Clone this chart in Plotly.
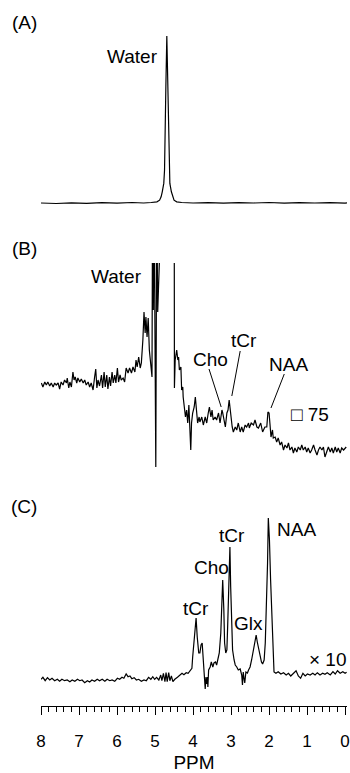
import plotly.graph_objects as go

# ---------------------------------------------------------------------------
# Spectra (chemical shift in ppm, intensity in arbitrary units)
# ---------------------------------------------------------------------------

# (A) unsuppressed water spectrum
ppm_a = [8.00, 7.60, 7.20, 6.80, 6.40, 6.00, 5.60, 5.30, 5.10, 4.95, 4.88, 4.84,
         4.81, 4.77, 4.75, 4.73, 4.715, 4.69, 4.665, 4.65, 4.63, 4.61, 4.57,
         4.54, 4.50, 4.43, 4.30, 4.00, 3.60, 3.20, 2.80, 2.40, 2.00, 1.60,
         1.20, 0.80, 0.40, 0.00, -0.05]
int_a = [0.3, 0.0, 0.4, 0.1, 0.5, 0.2, 0.6, 0.3, 0.6, 1, 2, 4,
         7, 12, 20, 40, 70, 100, 70, 40, 20, 12, 7,
         4, 2, 1, 0.6, 0.3, 0.5, 0.2, 0.5, 0.3, 0.6, 0.2,
         0.5, 0.3, 0.5, 0.2, 0.4]

# (B) water-suppressed spectrum, scaled up
ppm_b = [7.99, 7.95, 7.90, 7.86, 7.82, 7.77, 7.73, 7.68, 7.64, 7.60, 7.55, 7.51,
         7.47, 7.42, 7.38, 7.33, 7.31, 7.27, 7.24, 7.20, 7.16, 7.13, 7.10, 7.06,
         7.03, 6.98, 6.94, 6.89, 6.85, 6.81, 6.76, 6.72, 6.68, 6.63, 6.59, 6.56,
         6.53, 6.50, 6.46, 6.41, 6.38, 6.34, 6.31, 6.27, 6.24, 6.20, 6.17, 6.13,
         6.10, 6.06, 6.03, 5.99, 5.96, 5.92, 5.89, 5.84, 5.80, 5.76, 5.71, 5.67,
         5.62, 5.58, 5.53, 5.50, 5.47, 5.43, 5.39, 5.36, 5.32, 5.29, 5.26, 5.24,
         5.21, 5.18, 5.15, 5.11, 5.08,
         5.065, 5.045, 5.025, 4.98, 4.955, 4.93, 4.91, 4.70, 4.52, 4.495,
         4.49, 4.47, 4.43, 4.40, 4.38, 4.36, 4.32, 4.30, 4.27, 4.26, 4.23, 4.20,
         4.17, 4.14, 4.11, 4.09, 4.06, 4.04, 4.01, 3.97, 3.94, 3.91, 3.88, 3.84,
         3.82, 3.77, 3.73, 3.68, 3.64, 3.60, 3.57, 3.53, 3.50, 3.47, 3.42, 3.38,
         3.33, 3.29, 3.24, 3.22, 3.18, 3.15, 3.11, 3.08, 3.05, 3.03, 3.00, 2.97,
         2.94, 2.89, 2.85, 2.81, 2.76, 2.72, 2.68, 2.63, 2.59, 2.54, 2.52, 2.47,
         2.41, 2.37, 2.32, 2.28, 2.22, 2.17, 2.11, 2.06, 2.03, 2.00, 1.97, 1.95,
         1.91, 1.89, 1.84, 1.80, 1.76, 1.71, 1.67, 1.62, 1.58, 1.53, 1.49, 1.45,
         1.40, 1.36, 1.32, 1.27, 1.23, 1.18, 1.14, 1.10, 1.05, 1.01, 0.97, 0.92,
         0.88, 0.83, 0.79, 0.74, 0.70, 0.66, 0.61, 0.57, 0.53, 0.48, 0.44, 0.39,
         0.35, 0.31, 0.26, 0.22, 0.18, 0.13, 0.09, 0.04, -0.03]
int_b = [67, 63, 68, 65, 68, 64, 67, 63, 67, 65, 67, 61,
         68, 65, 70, 67, 72, 62, 68, 63, 78, 70, 73, 67,
         72, 68, 71, 67, 70, 65, 68, 63, 67, 60, 73, 81,
         62, 70, 64, 75, 62, 78, 63, 75, 61, 73, 64, 78,
         67, 75, 67, 82, 68, 75, 70, 72, 68, 82, 77, 82,
         77, 83, 78, 90, 83, 93, 82, 87, 110, 138, 117, 133,
         113, 132, 100, 85, 73,
         260, 140, 260, -17, 260, 138, 300, 400, 300, 250,
         62, 90, 100, 90, 93, 80, 83, 60, 63, 53, 43, 33,
         40, 27, 45, 20, 0, 27, 37, 43, 53, 40, 27, 33,
         28, 33, 25, 33, 27, 37, 43, 33, 40, 30, 33, 30,
         37, 27, 40, 37, 27, 23, 37, 40, 50, 43, 27, 23,
         18, 23, 20, 27, 18, 23, 18, 25, 23, 27, 22, 27,
         25, 30, 23, 22, 27, 18, 23, 23, 38, 37, 23, 13,
         20, 12, 13, 8, 12, 5, 8, 0, 5, 2, 7, 0,
         3, -3, 2, -2, 3, 0, 5, 0, 3, -2, 2, -3,
         0, 5, 0, -5, 0, 3, 0, 3, -7, 0, 3, -2,
         2, -3, 3, -2, 2, -3, 2, 0, 3]

# (C) water-suppressed spectrum, x10
ppm_c = [8.00, 7.95, 7.89, 7.83, 7.77, 7.71, 7.64, 7.57, 7.51, 7.45, 7.38, 7.31,
         7.24, 7.18, 7.11, 7.04, 6.98, 6.92, 6.85, 6.78, 6.72, 6.66, 6.59, 6.52,
         6.46, 6.39, 6.32, 6.26, 6.19, 6.13, 6.06, 5.99, 5.93, 5.87, 5.82, 5.76,
         5.71, 5.66, 5.61, 5.55, 5.49, 5.43, 5.36, 5.29, 5.23, 5.17, 5.11, 5.06,
         5.01, 4.96, 4.90, 4.85, 4.82, 4.78, 4.74, 4.71, 4.68, 4.64, 4.61, 4.57,
         4.53, 4.48, 4.41, 4.35, 4.29, 4.24, 4.18, 4.13, 4.08, 4.03, 4.01, 3.97,
         3.94, 3.92, 3.89, 3.85, 3.82, 3.79, 3.76, 3.73, 3.70, 3.68, 3.66, 3.64,
         3.62, 3.61, 3.59, 3.55, 3.52, 3.48, 3.45, 3.41, 3.38, 3.34, 3.31, 3.27,
         3.24, 3.22, 3.19, 3.17, 3.14, 3.11, 3.09, 3.06, 3.03, 3.01, 2.98, 2.96,
         2.92, 2.89, 2.85, 2.81, 2.76, 2.72, 2.70, 2.68, 2.66, 2.64, 2.61, 2.57,
         2.54, 2.50, 2.46, 2.41, 2.37, 2.34, 2.31, 2.27, 2.24, 2.20, 2.17, 2.13,
         2.10, 2.07, 2.04, 2.02, 1.99, 1.96, 1.93, 1.90, 1.87, 1.82, 1.76, 1.69,
         1.62, 1.55, 1.49, 1.43, 1.36, 1.29, 1.23, 1.17, 1.11, 1.05, 0.99, 0.92,
         0.85, 0.79, 0.73, 0.66, 0.59, 0.53, 0.47, 0.39, 0.32, 0.26, 0.20, 0.13,
         0.06, 0.00, -0.04]
int_c = [0.7, 2.7, -0.7, 2.3, 0, 1.7, -0.7, 0.7, -1.3, 0.7, -0.7, 0,
         -1.7, 0, -1.3, 0.7, -0.7, 0, -2.7, -0.7, -2, 0, -1.3, 0.7,
         -0.7, 0.7, -1.3, 0.7, -0.7, 0, -1.3, 1.7, 0.7, 2.7, 1.7, 6,
         3.3, 4, 1.3, 2.3, 0, 0.7, -1.3, 0, -0.7, 2.7, 0.7, 3.3,
         0.7, 2.7, 0, 5, -0.7, 6.7, -1.7, 7.3, -1.7, 7.3, -0.7, 4,
         -1.7, 0.7, 2.7, 5, 6.7, 5.3, 7.3, 6.7, 9.3, 11.7, 23, 43,
         60, 62, 43, 27, 27, 35, 37, 20, 3, -9, 3, -4,
         3, -7, 10, 13, 18, 13, 17, 18, 15, 23, 27, 47,
         83, 100, 70, 37, 27, 30, 53, 97, 133, 93, 50, 30,
         20, 15, 13, 10, 11, 5, -5, 8, 2, -3, 8, 7,
         10, 13, 20, 30, 40, 45, 38, 30, 23, 18, 16, 20,
         37, 70, 117, 162, 140, 100, 70, 30, 8, 6.7, 8.3, 6,
         7.3, 5, 6.7, 4, 6.7, 9.3, 4, 1.7, 6.7, 4, 6, 5,
         6.7, 5, 7.3, 5, 6.7, 5.7, 7.3, 5, 8.3, 6, 9.3, 6.7,
         8.3, 6.7, 7.7]

# Axis ticks
major_ticks = [8, 7, 6, 5, 4, 3, 2, 1, 0]
tick_labels = ["8", "7", "6", "5", "4", "3", "2", "1", "0"]

# Peak labels per panel: (text, ppm, intensity)
labels_a = [("Water", 5.58, 88)]
labels_b = [("Water", 6.01, 174), ("Cho", 3.55, 91), ("tCr", 2.66, 110),
            ("NAA", 1.50, 86), ("\u25a1 75", 0.92, 36)]
labels_c = [("tCr", 3.92, 72), ("Cho", 3.52, 113), ("tCr", 2.98, 145),
            ("Glx", 2.54, 57), ("NAA", 1.27, 151), ("\u00d7 10", 0.46, 21)]

# Leader lines in panel B: (ppm0, int0, ppm1, int1)
leaders_b = [(3.58, 81, 3.26, 43), (2.76, 99, 2.98, 54), (1.60, 76, 1.95, 42)]

panel_names = ["(A)", "(B)", "(C)"]

# ---------------------------------------------------------------------------
# Layout geometry
# ---------------------------------------------------------------------------
W, H = 350, 773
M_L, M_R, M_T, M_B = 41, 3, 0, 67
PLOT_H = H - M_T - M_B
FONT = "Liberation Sans, Arial, Helvetica, sans-serif"


def ydom(top_px, bot_px):
    return [1 - (bot_px - M_T) / PLOT_H, 1 - (top_px - M_T) / PLOT_H]


# (top pixel, bottom pixel, value range)
panels = [
    (34.3, 210.2, [-4, 101]),
    (263, 470, [-20, 187]),
    (515, 692, [-12, 165]),
]

fig = go.Figure()
series = [(ppm_a, int_a), (ppm_b, int_b), (ppm_c, int_c)]
yaxes = ["y", "y2", "y3"]
for (px, iy), ya in zip(series, yaxes):
    fig.add_trace(go.Scatter(x=px, y=iy, mode="lines", xaxis="x", yaxis=ya,
                             line=dict(color="black", width=1.2),
                             hoverinfo="skip", showlegend=False))

layout_axes = {}
for i, (top, bot, rng) in enumerate(panels):
    key = "yaxis" if i == 0 else f"yaxis{i + 1}"
    layout_axes[key] = dict(domain=ydom(top, bot), range=rng, visible=False,
                            fixedrange=True, anchor="x")

annotations = []
for labels, yref in [(labels_a, "y"), (labels_b, "y2"), (labels_c, "y3")]:
    for text, xv, yv in labels:
        annotations.append(dict(x=xv, y=yv, xref="x", yref=yref, text=text,
                                showarrow=False, xanchor="center", yanchor="middle",
                                font=dict(family=FONT, size=19, color="black")))

letter_y = [22.5, 248, 506.5]
for name, yp in zip(panel_names, letter_y):
    annotations.append(dict(x=(24 - M_L) / (W - M_L - M_R), y=1 - (yp - M_T) / PLOT_H,
                            xref="paper", yref="paper", text=name, showarrow=False,
                            xanchor="center", yanchor="middle",
                            font=dict(family=FONT, size=19, color="black")))

shapes = [dict(type="line", xref="x", yref="y2", x0=a, y0=b, x1=c, y1=d,
               line=dict(color="black", width=1)) for a, b, c, d in leaders_b]

fig.update_layout(
    width=W, height=H,
    margin=dict(l=M_L, r=M_R, t=M_T, b=M_B, pad=0),
    paper_bgcolor="white", plot_bgcolor="white",
    showlegend=False,
    xaxis=dict(range=[8.0, -0.05], anchor="free", position=0,
               tickmode="array", tickvals=major_ticks, ticktext=tick_labels,
               ticks="outside", ticklen=8, tickwidth=1, tickcolor="black",
               ticklabelstandoff=12,
               showline=True, linecolor="black", linewidth=1,
               showgrid=False, zeroline=False,
               minor=dict(dtick=0.2, ticks="outside", ticklen=5, tickwidth=1,
                          tickcolor="black", showgrid=False),
               tickfont=dict(family=FONT, size=17, color="black"),
               title=dict(text="PPM", standoff=9,
                          font=dict(family=FONT, size=19, color="black")),
               fixedrange=True),
    annotations=annotations,
    shapes=shapes,
    **layout_axes,
)

fig.write_html("out.html")
